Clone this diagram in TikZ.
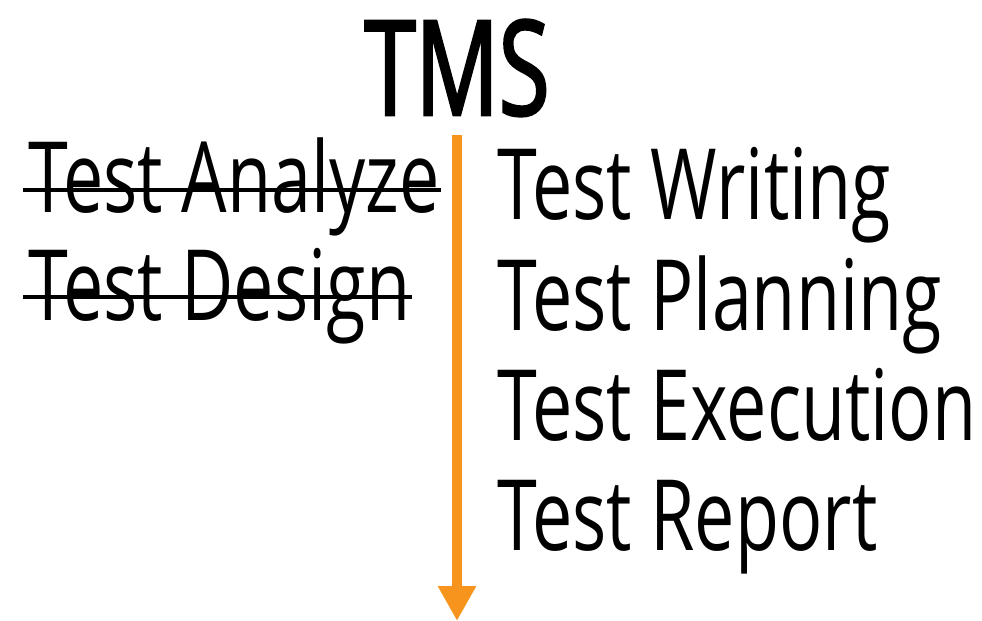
\documentclass[tikz,border=0pt]{standalone}
\usepackage{fontspec}
\setmainfont{Open Sans}[FakeStretch=0.73]
\newfontfamily\titlefont{Open Sans}[FakeStretch=0.7, FakeBold=2]
\usetikzlibrary{arrows.meta}

\begin{document}
\begin{tikzpicture}[
  title/.style={font=\titlefont\fontsize{75}{80}\selectfont, anchor=base, inner sep=0pt},
  item/.style={font=\fontsize{56}{60}\selectfont, anchor=base west, inner sep=0pt},
  strike/.style={line width=2pt, black},
  flow/.style={line width=0.2cm, draw={rgb,255:red,247;green,148;blue,29}, -{Triangle[width=0.72cm,length=0.7cm]}}
]
\useasboundingbox (0,0) rectangle (19.64,-12.42);

% Title
\node[title] (tms) at (9.14, -2.3) {TMS};

% Dropped steps (left)
\node[item] (analyze) at (0.56, -4.26) {Test Analyze};
\node[item] (design) at (0.56, -6.4) {Test Design};

% Strike-through
\draw[strike] ([xshift=-0.1cm, yshift=0.46cm]analyze.base west) -- ([xshift=0.02cm, yshift=0.46cm]analyze.base east);
\draw[strike] ([xshift=-0.1cm, yshift=0.46cm]design.base west) -- ([xshift=0.02cm, yshift=0.46cm]design.base east);

% Kept steps (right)
\node[item] (writing) at (9.94, -4.4) {Test Writing};
\node[item] (planning) at (9.94, -6.6) {Test Planning};
\node[item] (execution) at (9.94, -8.8) {Test Execution};
\node[item] (report) at (9.94, -11.0) {Test Report};

% Arrow
\coordinate (start) at (9.14, -2.7);
\coordinate (stop) at (9.14, -12.42);
\draw[flow] (start) -- (stop);

\end{tikzpicture}
\end{document}
